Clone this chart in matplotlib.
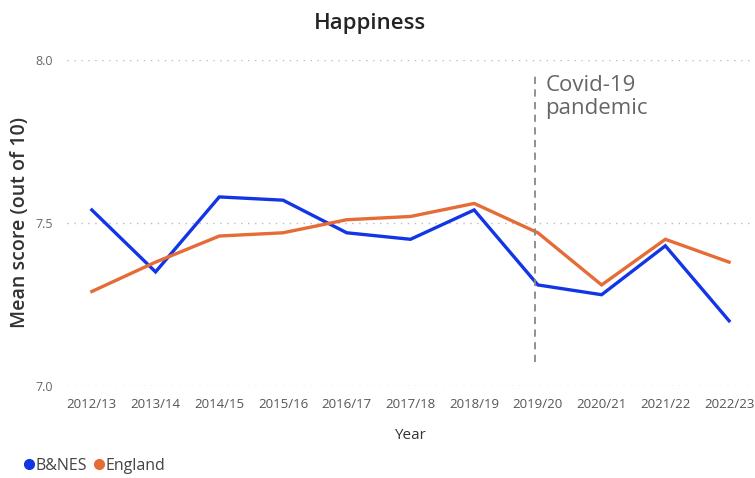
import matplotlib
matplotlib.use("Agg")
import matplotlib.pyplot as plt

years = ["2012/13", "2013/14", "2014/15", "2015/16", "2016/17", "2017/18",
         "2018/19", "2019/20", "2020/21", "2021/22", "2022/23"]
bnes = [7.54, 7.35, 7.58, 7.57, 7.47, 7.45, 7.54, 7.31, 7.28, 7.43, 7.20]
england = [7.29, 7.38, 7.46, 7.47, 7.51, 7.52, 7.56, 7.47, 7.31, 7.45, 7.38]
yticks = [7.0, 7.5, 8.0]
covid_pos = 6.95

blue = "#1235E6"
orange = "#E66C37"

plt.rcParams["font.family"] = ["Open Sans", "DejaVu Sans"]

fig = plt.figure(figsize=(7.55, 4.78), dpi=100)
ax = fig.add_axes([67/755, 1-386/478, (752-67)/755, (386-60)/478])

x = list(range(len(years)))
ax.plot(x, bnes, color=blue, lw=2.4, label="B&NES", solid_joinstyle="miter", clip_on=False)
ax.plot(x, england, color=orange, lw=2.4, label="England", solid_joinstyle="miter", clip_on=False)

ax.set_ylim(7.0, 8.0)
ax.set_xlim(-0.39, 10.36)
ax.set_yticks(yticks)
ax.set_yticklabels([f"{v:.1f}" for v in yticks], color="#666666", fontsize=9)
ax.set_xticks(x)
ax.set_xticklabels(years, color="#555555", fontsize=9.5)
ax.tick_params(length=0)
ax.tick_params(axis="x", pad=9)
ax.tick_params(axis="y", pad=10)
for s in ax.spines.values():
    s.set_visible(False)
ax.grid(axis="y", linestyle=(0, (1, 4)), color="#bbbbbb", lw=1)
ax.set_axisbelow(True)

ax.plot([covid_pos, covid_pos], [7.074, 7.954], color="#888888", lw=1.3,
        linestyle=(0, (4, 3)))
ax.text(covid_pos + 0.17, 7.955, "Covid-19\npandemic", color="#666666",
        fontsize=16, va="top", ha="left", linespacing=1.15)

ax.set_ylabel("Mean score (out of 10)", fontsize=14, color="#333333", labelpad=4,
              fontweight="semibold")
ax.set_xlabel("Year", fontsize=11, color="#333333", labelpad=12)

fig.text(370/755, 1-23/478, "Happiness", fontsize=16, color="#252423",
         ha="center", va="center", fontweight="semibold")

leg = fig.legend(handles=[plt.Line2D([], [], marker="o", ls="", color=blue, markersize=7),
                          plt.Line2D([], [], marker="o", ls="", color=orange, markersize=7)],
                 labels=["B&NES", "England"], loc="center left",
                 bbox_to_anchor=(8/755, 1-466/478), frameon=False, ncol=2,
                 handletextpad=0.05, columnspacing=0.3, fontsize=11.5,
                 handlelength=0.8, labelcolor="#444444")

fig.savefig("out.png", dpi=100)
